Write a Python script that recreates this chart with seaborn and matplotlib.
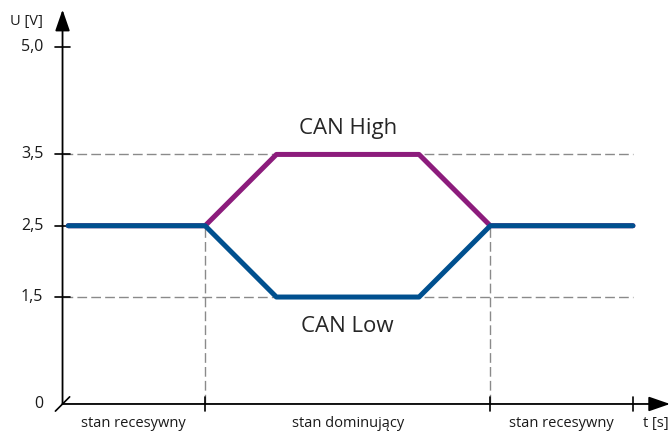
import pandas as pd
import matplotlib.pyplot as plt
import seaborn as sns

# dane sygnałów CAN
t_pts = [0.08, 2.0, 3.0, 5.0, 6.0, 8.0]
can_high = [2.5, 2.5, 3.5, 3.5, 2.5, 2.5]
can_low = [2.5, 2.5, 1.5, 1.5, 2.5, 2.5]

y_ticks = [0.0, 1.5, 2.5, 3.5, 5.0]
y_labels = ["0", "1,5", "2,5", "3,5", "5,0"]
state_bounds = [0.0, 2.0, 6.0, 8.0]
state_labels = ["stan recesywny", "stan dominujący", "stan recesywny"]

sns.set_style("white")
plt.rcParams["font.family"] = ["Open Sans", "DejaVu Sans"]

df = pd.concat([
    pd.DataFrame({"t": t_pts, "U": can_high, "sygnal": "CAN High"}),
    pd.DataFrame({"t": t_pts, "U": can_low, "sygnal": "CAN Low"}),
])

fig = plt.figure(figsize=(6.7, 4.33), dpi=100)
ax = fig.add_axes([0, 0, 1, 1])
ax.set_xlim(-0.877, 8.52)
ax.set_ylim(-0.407, 5.666)
ax.axis("off")

grey = "#8a8a8a"
# poziome linie przerywane
for lvl in [3.5, 1.5]:
    ax.plot([0, state_bounds[-1]], [lvl, lvl], color=grey, lw=1.0,
            dashes=(7, 3), zorder=1)
# pionowe linie przerywane
for b in state_bounds[1:3]:
    ax.plot([b, b], [0, 2.5], color=grey, lw=1.0, dashes=(7, 3), zorder=1)

sns.lineplot(data=df, x="t", y="U", hue="sygnal", sort=False, ax=ax,
             palette={"CAN High": "#8c1c7c", "CAN Low": "#00508f"},
             linewidth=3.6, legend=False, zorder=3)

# osie ze strzałkami
arrow = dict(arrowstyle="-|>,head_length=1.3,head_width=0.45", color="black",
             lw=1.3, shrinkA=0, shrinkB=0)
ax.annotate("", xy=(0, 5.53), xytext=(0, 0), arrowprops=arrow)
ax.annotate("", xy=(8.52, 0), xytext=(0, 0), arrowprops=arrow)

# znaczniki osi
for v in y_ticks[1:]:
    ax.plot([-0.1, 0.1], [v, v], color="black", lw=1.2, zorder=2)
for b in state_bounds[1:]:
    ax.plot([b, b], [-0.1, 0.1], color="black", lw=1.2)
ax.plot([-0.1, 0.1], [-0.1, 0.1], color="black", lw=1.2)

for v, lab in zip(y_ticks, y_labels):
    ax.text(-0.27, v, lab, ha="right", va="center", fontsize=11.5,
            color="#1a1a1a")
ax.text(-0.27, 5.36, "U [V]", ha="right", va="center", fontsize=10.5,
        color="#1a1a1a")
ax.text(8.5, -0.28, "t [s]", ha="right", va="center", fontsize=10.5,
        color="#1a1a1a")

for i, lab in enumerate(state_labels):
    mid = (state_bounds[i] + state_bounds[i + 1]) / 2
    ax.text(mid, -0.28, lab, ha="center", va="center", fontsize=10.5,
            color="#1a1a1a")

ax.text(4.0, 3.87, "CAN High", ha="center", va="center", fontsize=16)
ax.text(4.0, 1.09, "CAN Low", ha="center", va="center", fontsize=16)

fig.savefig("out.png", dpi=100)
